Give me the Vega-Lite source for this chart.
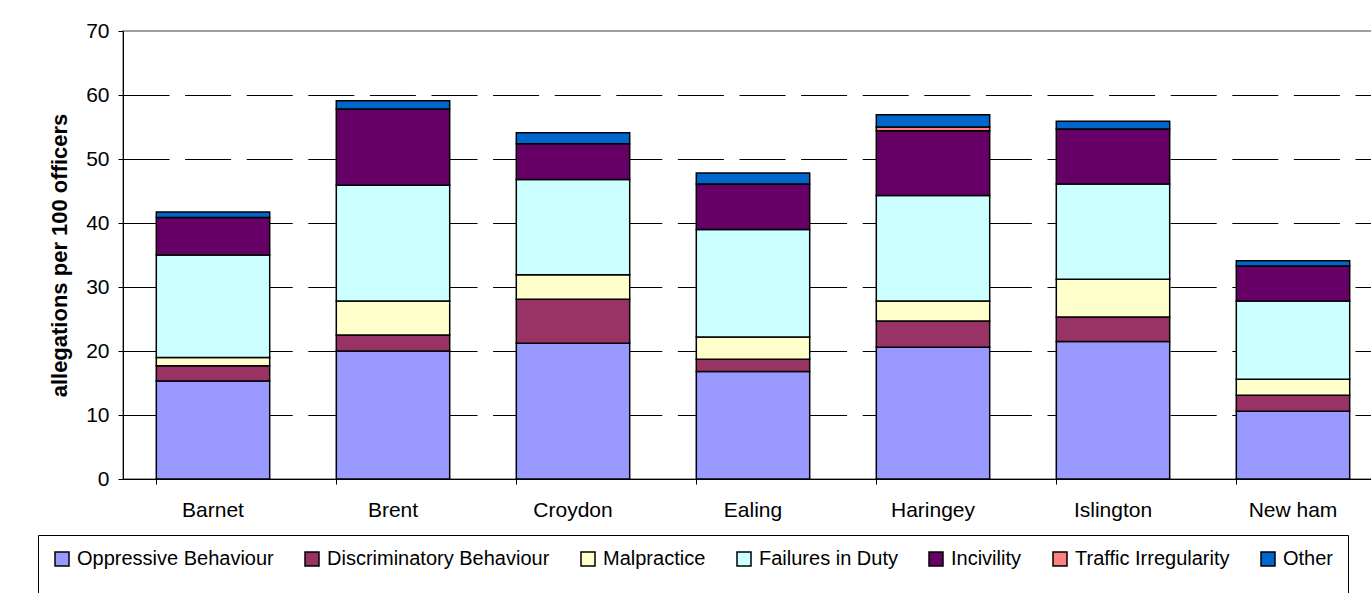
{
  "$schema": "https://vega.github.io/schema/vega-lite/v6.json",
  "autosize": {"type": "none"},
  "padding": {"left": 123, "top": 31, "right": 0, "bottom": 114},
  "width": 1260,
  "height": 448,
  "background": "white",
  "data": {"values": [
    {"borough": "Barnet", "type": "Oppressive Behaviour", "k": 1, "value": 15.3},
    {"borough": "Barnet", "type": "Discriminatory Behaviour", "k": 2, "value": 2.4},
    {"borough": "Barnet", "type": "Malpractice", "k": 3, "value": 1.3},
    {"borough": "Barnet", "type": "Failures in Duty", "k": 4, "value": 16.0},
    {"borough": "Barnet", "type": "Incivility", "k": 5, "value": 5.85},
    {"borough": "Barnet", "type": "Other", "k": 7, "value": 0.85},
    {"borough": "Brent", "type": "Oppressive Behaviour", "k": 1, "value": 20.0},
    {"borough": "Brent", "type": "Discriminatory Behaviour", "k": 2, "value": 2.5},
    {"borough": "Brent", "type": "Malpractice", "k": 3, "value": 5.3},
    {"borough": "Brent", "type": "Failures in Duty", "k": 4, "value": 18.1},
    {"borough": "Brent", "type": "Incivility", "k": 5, "value": 11.9},
    {"borough": "Brent", "type": "Other", "k": 7, "value": 1.3},
    {"borough": "Croydon", "type": "Oppressive Behaviour", "k": 1, "value": 21.2},
    {"borough": "Croydon", "type": "Discriminatory Behaviour", "k": 2, "value": 6.9},
    {"borough": "Croydon", "type": "Malpractice", "k": 3, "value": 3.8},
    {"borough": "Croydon", "type": "Failures in Duty", "k": 4, "value": 14.9},
    {"borough": "Croydon", "type": "Incivility", "k": 5, "value": 5.6},
    {"borough": "Croydon", "type": "Other", "k": 7, "value": 1.7},
    {"borough": "Ealing", "type": "Oppressive Behaviour", "k": 1, "value": 16.8},
    {"borough": "Ealing", "type": "Discriminatory Behaviour", "k": 2, "value": 1.9},
    {"borough": "Ealing", "type": "Malpractice", "k": 3, "value": 3.5},
    {"borough": "Ealing", "type": "Failures in Duty", "k": 4, "value": 16.8},
    {"borough": "Ealing", "type": "Incivility", "k": 5, "value": 7.1},
    {"borough": "Ealing", "type": "Other", "k": 7, "value": 1.7},
    {"borough": "Haringey", "type": "Oppressive Behaviour", "k": 1, "value": 20.6},
    {"borough": "Haringey", "type": "Discriminatory Behaviour", "k": 2, "value": 4.1},
    {"borough": "Haringey", "type": "Malpractice", "k": 3, "value": 3.1},
    {"borough": "Haringey", "type": "Failures in Duty", "k": 4, "value": 16.5},
    {"borough": "Haringey", "type": "Incivility", "k": 5, "value": 10.1},
    {"borough": "Haringey", "type": "Traffic Irregularity", "k": 6, "value": 0.6},
    {"borough": "Haringey", "type": "Other", "k": 7, "value": 1.9},
    {"borough": "Islington", "type": "Oppressive Behaviour", "k": 1, "value": 21.5},
    {"borough": "Islington", "type": "Discriminatory Behaviour", "k": 2, "value": 3.8},
    {"borough": "Islington", "type": "Malpractice", "k": 3, "value": 5.9},
    {"borough": "Islington", "type": "Failures in Duty", "k": 4, "value": 14.9},
    {"borough": "Islington", "type": "Incivility", "k": 5, "value": 8.6},
    {"borough": "Islington", "type": "Other", "k": 7, "value": 1.2},
    {"borough": "New ham", "type": "Oppressive Behaviour", "k": 1, "value": 10.6},
    {"borough": "New ham", "type": "Discriminatory Behaviour", "k": 2, "value": 2.5},
    {"borough": "New ham", "type": "Malpractice", "k": 3, "value": 2.5},
    {"borough": "New ham", "type": "Failures in Duty", "k": 4, "value": 12.2},
    {"borough": "New ham", "type": "Incivility", "k": 5, "value": 5.5},
    {"borough": "New ham", "type": "Other", "k": 7, "value": 0.8}
  ]},
  "mark": {"type": "bar", "stroke": "black", "strokeWidth": 1.5},
  "encoding": {
    "x": {
      "field": "borough", "type": "nominal", "sort": null,
      "scale": {"paddingInner": 0.37, "paddingOuter": 0.185},
      "axis": {
        "title": null, "labelAngle": 0, "bandPosition": 0,
        "tickSize": 5, "tickColor": "black", "domainColor": "black",
        "labelFont": "Liberation Sans", "labelFontSize": 21, "labelColor": "black",
        "labelPadding": 15, "labelBaseline": "top"
      }
    },
    "y": {
      "field": "value", "type": "quantitative", "stack": "zero",
      "scale": {"domain": [0, 70], "nice": false},
      "axis": {
        "title": "allegations per 100 officers",
        "values": [0, 10, 20, 30, 40, 50, 60, 70],
        "titleFont": "Liberation Sans", "titleFontSize": 22, "titleFontWeight": "bold", "titleColor": "black",
        "titlePadding": 14,
        "labelFont": "Liberation Sans", "labelFontSize": 21, "labelColor": "black", "labelPadding": 9,
        "tickSize": 5, "tickColor": "black", "domainColor": "black",
        "grid": true, "gridColor": "black", "gridDash": [46, 15.6], "gridWidth": 1,
        "gridOpacity": {"condition": {"test": "datum.value === 70 || datum.value === 0", "value": 0}, "value": 1}
      }
    },
    "order": {"field": "k", "type": "quantitative", "sort": "ascending"},
    "color": {
      "field": "type", "type": "nominal",
      "sort": ["Oppressive Behaviour", "Discriminatory Behaviour", "Malpractice", "Failures in Duty", "Incivility", "Traffic Irregularity", "Other"],
      "scale": {
        "domain": ["Oppressive Behaviour", "Discriminatory Behaviour", "Malpractice", "Failures in Duty", "Incivility", "Traffic Irregularity", "Other"],
        "range": ["#9999FF", "#993366", "#FFFFCC", "#CCFFFF", "#660066", "#FF8080", "#0066CC"]
      },
      "legend": {
        "title": " ", "titleOrient": "bottom", "titlePadding": 14, "titleFontSize": 20,
        "orient": "none", "direction": "horizontal",
        "legendX": -85, "legendY": 504,
        "strokeColor": "black", "fillColor": "white", "padding": 14,
        "symbolType": "square", "symbolSize": 196, "symbolStrokeColor": "black", "symbolStrokeWidth": 1.5,
        "labelFont": "Liberation Sans", "labelFontSize": 20, "labelColor": "black", "labelLimit": 0,
        "labelOffset": 5, "columnPadding": 28
      }
    }
  },
  "config": {
    "view": {"stroke": "#808080", "strokeWidth": 1.5}
  }
}
